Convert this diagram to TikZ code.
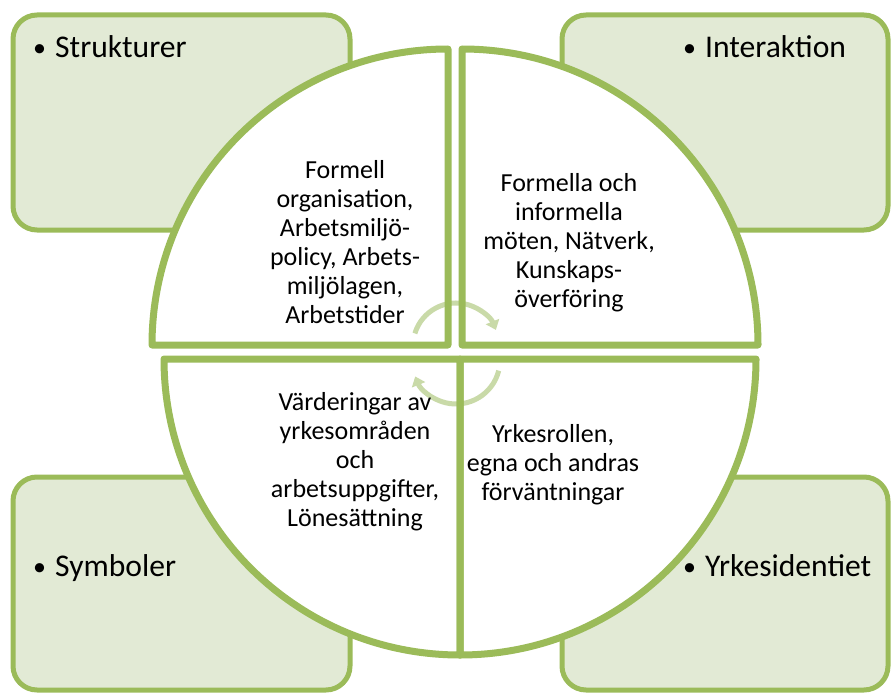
\documentclass[tikz,border=0pt]{standalone}
\usepackage{fontspec}
\setmainfont{Carlito}
\usetikzlibrary{arrows.meta}
\definecolor{olive}{HTML}{9BBB59}
\definecolor{palegreen}{HTML}{E2EAD5}
\definecolor{cyclegreen}{HTML}{C9DAA8}
\newcommand{\bul}{\makebox[22pt][l]{\raisebox{1pt}{\fontsize{26}{26}\selectfont •}}}

\begin{document}
\begin{tikzpicture}[x=1pt, y=-1pt]
\tikzstyle{box}=[draw=olive, line width=5pt, fill=palegreen, rounded corners=24pt];
\tikzstyle{quadline}=[draw=olive, line width=7pt, line join=round];
\tikzstyle{lab}=[font=\fontsize{31.6}{38}\selectfont, anchor=base west, inner sep=0pt];
\tikzstyle{txt}=[font=\fontsize{26}{29}\selectfont, align=center, inner sep=0pt];
\tikzstyle{cyc}=[draw=cyclegreen, line width=5pt, -{Triangle[length=9pt,width=14pt]}];
\useasboundingbox (0,0) rectangle (891,693);
% corner boxes
\draw[box] (13,15) rectangle (350,230);
\draw[box] (562,15) rectangle (888,230);
\draw[box] (13,477) rectangle (350,690);
\draw[box] (562,477) rectangle (888,690);
\node[lab] (strukturer) at (33,57) {\bul Strukturer};
\node[lab] (interaktion) at (683,57) {\bul Interaktion};
\node[lab] (symboler) at (33,576) {\bul Symboler};
\node[lab] (yrkesid) at (683,576) {\bul Yrkesidentiet};
% the four quarters of the circle
\def\rad{296}
\coordinate (ctl) at (448,345);
\coordinate (ctr) at (462,345);
\coordinate (cb) at (460,359);
\foreach \c/\a in {ctl/180, ctr/270, cb/0, cb/90}
{\fill[white] (\c) -- ++(\a:\rad) arc[start angle=\a, delta angle=90, radius=\rad] -- cycle;}
% cycle arrows
\coordinate (atop) at (456,346);
\coordinate (abot) at (456,360);
\draw[cyc] ([shift={(197:43)}]atop) arc[start angle=197, end angle=338, radius=43];
\draw[cyc] ([shift={(14:44)}]abot) arc[start angle=14, end angle=158, radius=44];
\foreach \c/\a in {ctl/180, ctr/270, cb/0, cb/90}
{\draw[quadline] (\c) -- ++(\a:\rad) arc[start angle=\a, delta angle=90, radius=\rad] -- cycle;}
\node[txt] (strtxt) at (345,242) {Formell\\organisation,\\Arbetsmiljö-\\policy, Arbets-\\miljölagen,\\Arbetstider};
\node[txt] (inttxt) at (569,243) {Formella och\\informella\\möten, Nätverk,\\Kunskaps-\\överföring};
\node[txt] (symtxt) at (355,462) {Värderingar av\\yrkesområden\\och\\arbetsuppgifter,\\Lönesättning};
\node[txt] (yrktxt) at (553,465) {Yrkesrollen,\\egna och andras\\förväntningar};
\end{tikzpicture}
\end{document}
